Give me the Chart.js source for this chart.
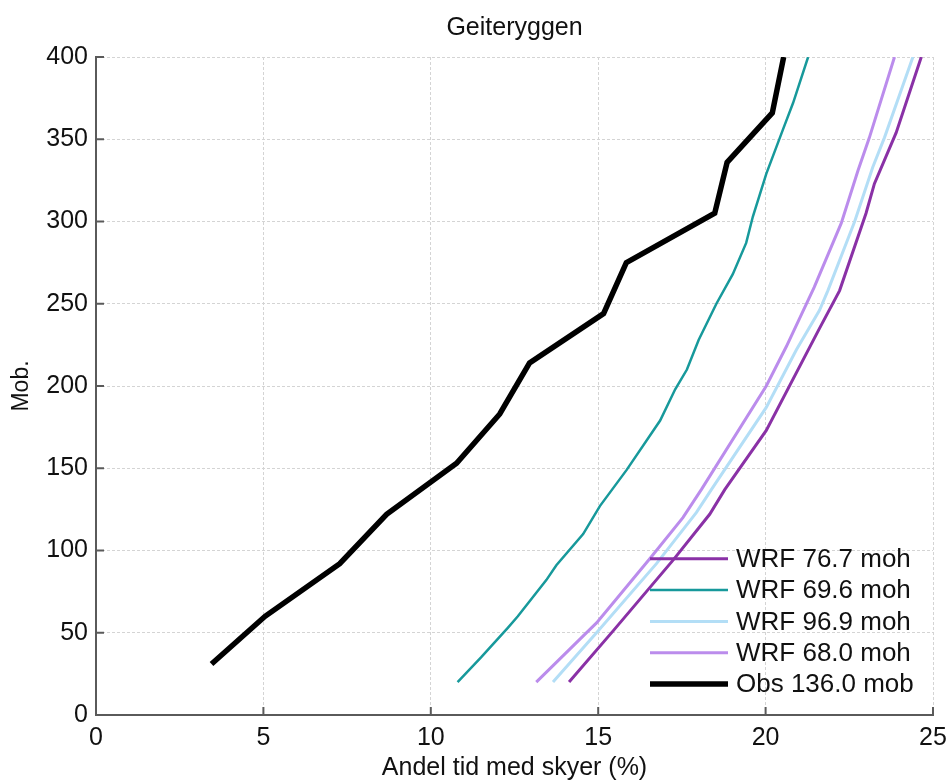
<!DOCTYPE html>
<html lang="no">
<head>
  <meta charset="UTF-8" />
  <title>Geiteryggen</title>
  <script src="https://cdn.jsdelivr.net/npm/chart.js"></script>
  <style>
    html, body { margin: 0; padding: 0; background: #fff; }
    #wrap { width: 949px; height: 783px; }
  </style>
</head>
<body>
  <div id="wrap"><canvas id="graf"></canvas></div>

  <script>
    // Andel tid med skyer (%) mot hoyde (mob.)
    const obsHoyde = [31, 60, 92, 122, 153, 183, 214, 244, 275, 305, 336, 366, 400];
    const obsAndel = [3.45, 5.05, 7.28, 8.68, 10.77, 12.06, 12.95, 15.16, 15.84, 18.48, 18.85, 20.2, 20.54];

    const wrf767Hoyde = [20, 51, 94, 122, 137, 173, 235, 258, 305, 323, 354, 400];
    const wrf767Andel = [14.13, 15.44, 17.23, 18.33, 18.78, 20.02, 21.61, 22.21, 23.0, 23.25, 23.9, 24.65];

    const wrf696Hoyde = [20, 35, 53, 60, 82, 91, 110, 127, 149, 179, 198, 210, 228, 250, 268, 287, 303, 329, 356, 372, 400];
    const wrf696Andel = [10.8, 11.5, 12.3, 12.6, 13.45, 13.75, 14.55, 15.05, 15.85, 16.85, 17.3, 17.65, 18.0, 18.53, 19.02, 19.42, 19.62, 20.02, 20.52, 20.82, 21.27];

    const wrf969Hoyde = [20, 50, 92, 123, 137, 187, 222, 246, 258, 300, 333, 351, 400];
    const wrf969Andel = [13.65, 14.95, 16.74, 17.93, 18.38, 20.02, 20.92, 21.61, 21.86, 22.66, 23.2, 23.55, 24.4];

    const wrf680Hoyde = [20, 49, 56, 95, 120, 137, 200, 224, 260, 299, 331, 351, 400];
    const wrf680Andel = [13.15, 14.6, 14.95, 16.54, 17.53, 18.08, 20.02, 20.62, 21.45, 22.26, 22.76, 23.1, 23.85];

    const serier = ['WRF 76.7 moh', 'WRF 69.6 moh', 'WRF 96.9 moh', 'WRF 68.0 moh', 'Obs 136.0 mob'];
    const xTicks = [0, 5, 10, 15, 20, 25];
    const yTicks = [0, 50, 100, 150, 200, 250, 300, 350, 400];
    const tittel = 'Geiteryggen';

    const font = "'Liberation Sans', Arial, sans-serif";
    const aksefarge = '#5a5a5a';
    const gridfarge = '#d4d4d4';

    function punkter(andel, hoyde) {
      return andel.map((v, i) => ({ x: v, y: hoyde[i] }));
    }

    function serie(label, andel, hoyde, farge, bredde) {
      return {
        label: label,
        data: punkter(andel, hoyde),
        borderColor: farge,
        backgroundColor: farge,
        borderWidth: bredde,
        pointRadius: 0,
        tension: 0,
        fill: false
      };
    }

    // innovervendte tick-streker + tittel sentrert over plottet
    const tickPlugin = {
      id: 'innTicks',
      afterDatasetsDraw(chart) {
        const ctx = chart.ctx;
        const xs = chart.scales.x, ys = chart.scales.y;
        const a = chart.chartArea;
        ctx.save();
        ctx.strokeStyle = aksefarge;
        ctx.lineWidth = 2;
        xs.ticks.forEach((t, i) => {
          const px = xs.getPixelForTick(i);
          ctx.beginPath();
          ctx.moveTo(px, a.bottom);
          ctx.lineTo(px, a.bottom - 8);
          ctx.stroke();
        });
        ys.ticks.forEach((t, i) => {
          const py = ys.getPixelForTick(i);
          ctx.beginPath();
          ctx.moveTo(a.left, py);
          ctx.lineTo(a.left + 8, py);
          ctx.stroke();
        });
        ctx.fillStyle = '#111';
        ctx.font = '25px ' + font;
        ctx.textAlign = 'center';
        ctx.textBaseline = 'middle';
        ctx.fillText(tittel, (a.left + a.right) / 2, 28);
        ctx.restore();
      }
    };

    // forklaring inne i plottet, nede til hoyre
    const legendPlugin = {
      id: 'innLegend',
      afterDraw(chart) {
        const ctx = chart.ctx;
        const a = chart.chartArea;
        const x0 = a.right - 283;
        const rad = 31.3;
        const n = chart.data.datasets.length;
        ctx.save();
        ctx.font = '26px ' + font;
        ctx.textBaseline = 'middle';
        ctx.fillStyle = '#111';
        chart.data.datasets.forEach((ds, i) => {
          const y = a.bottom - 31 - (n - 1 - i) * rad;
          ctx.strokeStyle = ds.borderColor;
          ctx.lineWidth = ds.borderWidth;
          ctx.beginPath();
          ctx.moveTo(x0, y);
          ctx.lineTo(x0 + 78, y);
          ctx.stroke();
          ctx.fillText(ds.label, x0 + 86, y + 1);
        });
        ctx.restore();
      }
    };

    const ctx = document.getElementById('graf').getContext('2d');
    new Chart(ctx, {
      type: 'line',
      data: {
        datasets: [
          serie(serier[0], wrf767Andel, wrf767Hoyde, '#8a31a6', 3),
          serie(serier[1], wrf696Andel, wrf696Hoyde, '#17999b', 2.5),
          serie(serier[2], wrf969Andel, wrf969Hoyde, '#b3def6', 3),
          serie(serier[3], wrf680Andel, wrf680Hoyde, '#bb8cec', 3),
          serie(serier[4], obsAndel, obsHoyde, '#000000', 5.5)
        ]
      },
      options: {
        responsive: true,
        maintainAspectRatio: false,
        animation: false,
        layout: { padding: { left: 0, right: 16, top: 57, bottom: 0 } },
        plugins: {
          legend: { display: false },
          tooltip: { enabled: false },
          title: { display: false }
        },
        scales: {
          x: {
            type: 'linear',
            min: 0,
            max: 25,
            afterBuildTicks(s) { s.ticks = xTicks.map(v => ({ value: v })); },
            afterFit(s) { s.height = 68; s.paddingLeft = 0; s.paddingRight = 0; },
            grid: {
              color: gridfarge,
              lineWidth: 1,
              drawTicks: false
            },
            border: { display: true, color: aksefarge, width: 2, dash: [3, 2] },
            ticks: {
              color: '#111',
              padding: 8,
              maxRotation: 0,
              font: { family: font, size: 25 }
            },
            title: {
              display: true,
              text: 'Andel tid med skyer (%)',
              color: '#111',
              font: { family: font, size: 25 },
              padding: { top: 0, bottom: 0 }
            }
          },
          y: {
            type: 'linear',
            min: 0,
            max: 400,
            afterBuildTicks(s) { s.ticks = yTicks.map(v => ({ value: v })); },
            afterFit(s) { s.width = 96; s.paddingTop = 0; s.paddingBottom = 0; },
            grid: {
              color: gridfarge,
              lineWidth: 1,
              drawTicks: false
            },
            border: { display: true, color: aksefarge, width: 2, dash: [3, 2] },
            ticks: {
              color: '#111',
              padding: 8,
              font: { family: font, size: 25 }
            },
            title: {
              display: true,
              text: 'Mob.',
              color: '#111',
              font: { family: font, size: 23 },
              padding: { top: 8, bottom: 8 }
            }
          }
        }
      },
      plugins: [tickPlugin, legendPlugin]
    });
  </script>
</body>
</html>
